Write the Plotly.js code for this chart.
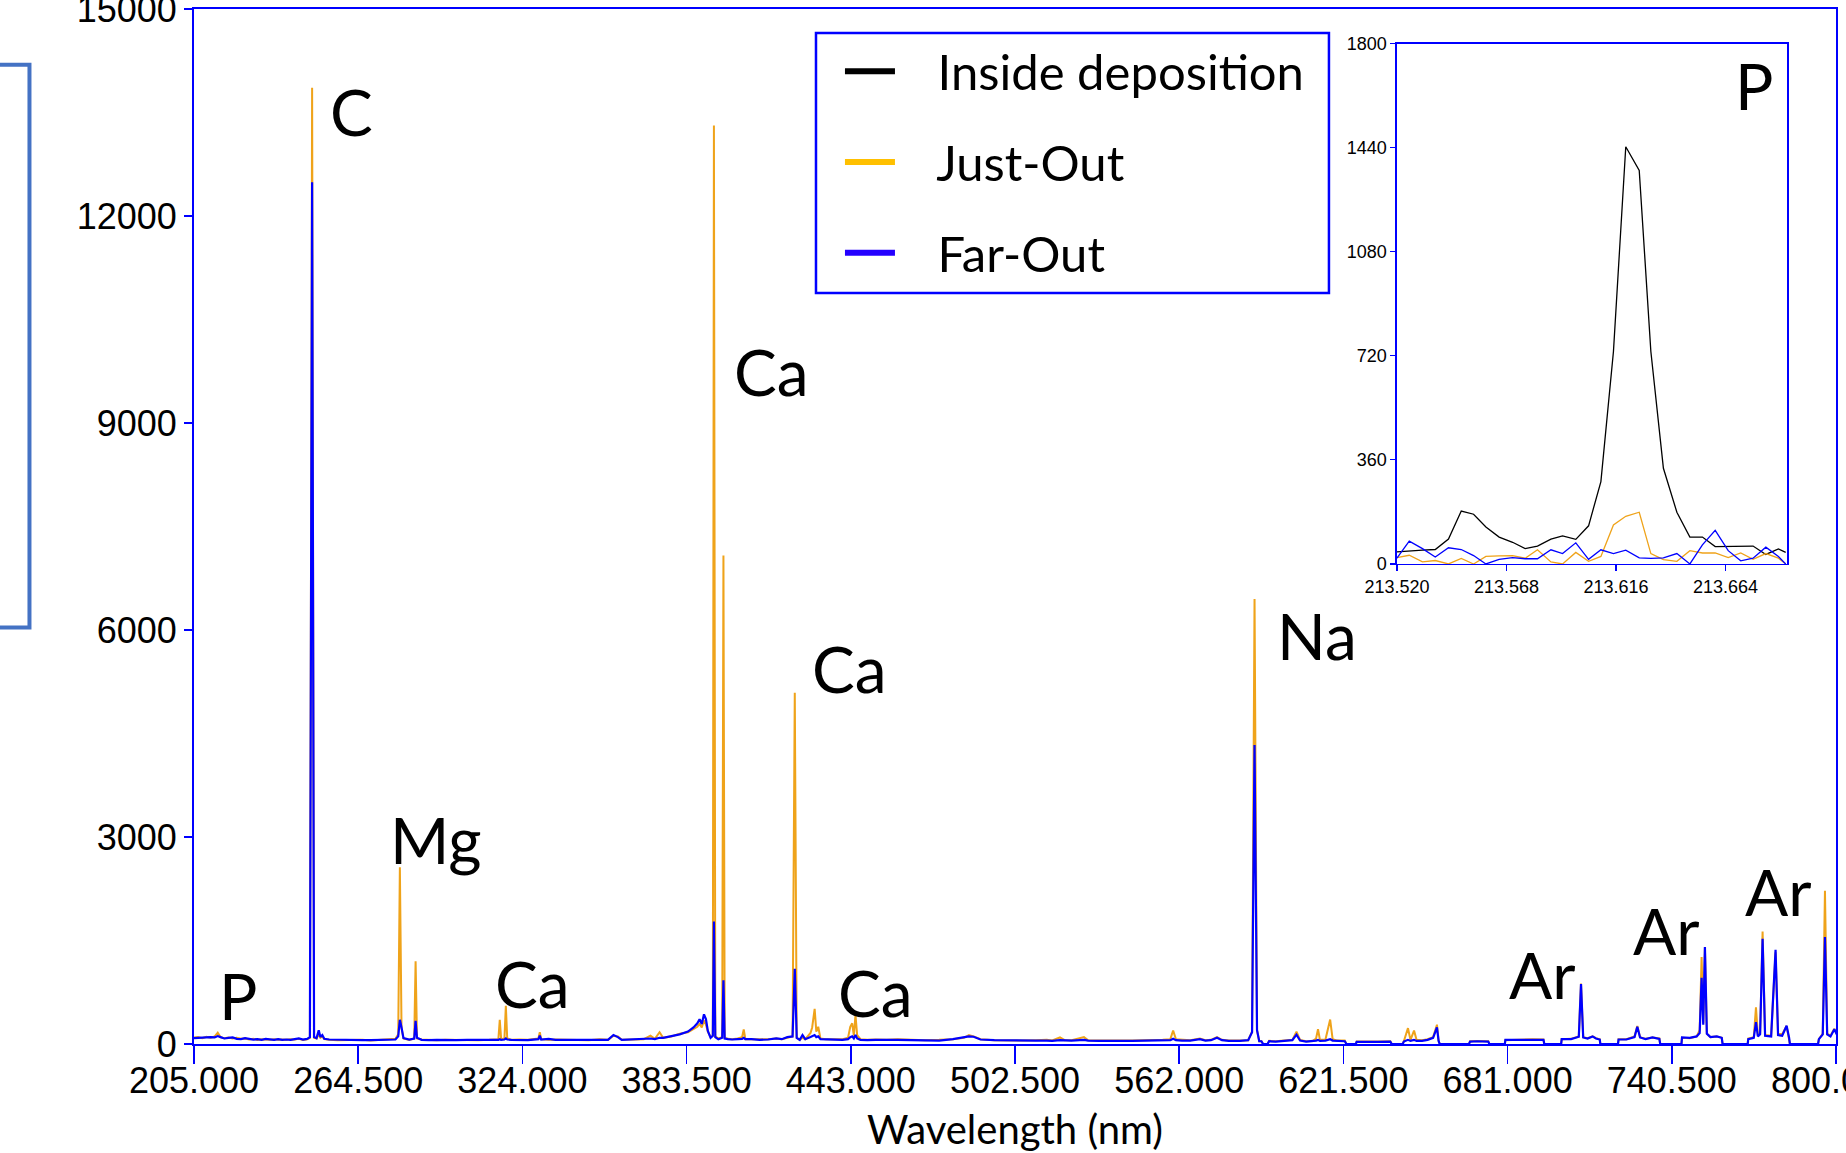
<!DOCTYPE html>
<html>
<head>
<meta charset="utf-8">
<script src="https://cdn.plot.ly/plotly-3.0.1.min.js"></script>
<style>
  html, body { margin: 0; padding: 0; background: #ffffff; }
  #chart { width: 1846px; height: 1153px; }
</style>
</head>
<body>
<div id="chart"></div>
<script>
// ---------------- Main spectrum (nm) ----------------
const wavelength = [
  205.0, 206.5, 208.0, 209.5, 211.0, 212.5, 213.6, 214.6, 216.0, 217.5,
  219.0, 220.5, 222.0, 223.5, 225.0, 226.5, 228.0, 229.5, 231.0, 232.5,
  234.0, 235.5, 237.0, 238.5, 240.0, 241.5, 243.0, 244.5, 246.0, 247.0,
  247.8, 248.5, 249.4, 250.2, 250.8, 251.5, 252.2, 254.0, 257.0, 260.0,
  263.0, 266.0, 269.0, 272.0, 275.0, 278.0, 279.0, 279.6, 280.2, 280.9,
  283.0, 284.8, 285.3, 285.8, 287.5, 290.0, 293.0, 296.0, 300.0, 304.0,
  308.0, 312.0, 315.3, 315.8, 316.3, 317.5, 318.0, 318.5, 320.0, 323.0,
  326.0, 329.8, 330.3, 330.8, 333.5, 336.0, 340.0, 344.0, 348.0, 352.0,
  355.0, 357.0, 358.6, 360.0, 364.0, 368.0, 370.4, 372.0, 373.7, 375.0,
  378.0, 381.0, 384.0, 386.0, 387.4, 388.2, 389.0, 389.8, 390.5, 391.2,
  392.2, 393.0, 393.4, 393.9, 395.0, 396.4, 396.85, 397.3, 398.5, 400.0,
  402.0, 403.6, 404.2, 404.8, 407.0, 410.0, 413.0, 416.0, 418.0, 420.0,
  421.9, 422.7, 423.4, 424.5, 425.5, 426.5, 428.4, 429.0, 429.9, 430.5,
  431.2, 432.0, 434.0, 437.0, 440.0, 442.0, 442.8, 443.5, 444.1, 444.7,
  445.3, 446.5, 449.0, 452.0, 456.0, 460.0, 465.0, 470.0, 475.0, 480.0,
  484.0, 485.8, 487.5, 490.0, 495.0, 500.0, 505.0, 510.0, 514.0, 516.0,
  518.8, 520.5, 523.0, 527.5, 529.0, 533.0, 537.0, 541.0, 545.0, 549.0,
  553.0, 556.0, 558.8, 559.8, 560.8, 563.0, 566.0, 569.5, 571.5, 573.5,
  575.7, 577.5, 580.0, 584.0, 587.0, 588.4, 589.3, 590.2, 591.0, 591.8,
  592.4, 594.0, 594.6, 597.0, 600.0, 603.0, 604.5, 605.8, 608.0, 610.5,
  611.6, 612.3, 613.0, 615.0, 616.7, 617.6, 619.0, 622.0, 622.6, 626.0,
  626.3, 630.0, 634.0, 638.5, 639.0, 643.0, 643.4, 644.9, 645.8, 647.1,
  648.0, 650.0, 652.0, 654.0, 655.4, 656.0, 656.4, 667.0, 667.4, 670.0,
  674.0, 674.4, 680.0, 680.2, 684.0, 686.0, 690.0, 694.0, 694.3, 700.4,
  700.6, 704.0, 706.8, 707.6, 708.4, 710.0, 711.8, 713.0, 714.4, 714.6,
  721.0, 721.2, 724.0, 727.0, 728.0, 729.0, 731.0, 733.5, 736.0, 736.3,
  744.0, 744.2, 747.0, 749.5, 750.6, 751.3, 751.9, 752.5, 753.2, 754.5,
  756.8, 758.6, 758.9, 768.0, 768.2, 770.2, 771.0, 771.7, 772.5, 773.4,
  774.3, 776.5, 778.1, 779.0, 780.5, 782.1, 783.0, 783.3, 793.5, 793.8,
  795.2, 796.0, 796.8, 798.0, 799.4, 800.5
];
const justOut = [
  95, 100, 85, 105, 90, 110, 165, 100, 85, 95,
  80, 90, 75, 80, 65, 75, 60, 70, 65, 60,
  70, 60, 65, 60, 70, 65, 75, 60, 70, 90,
  13860, 90, 80, 140, 90, 110, 70, 60, 55, 60,
  55, 60, 50, 55, 60, 75, 140, 2560, 230, 80,
  60, 80, 1200, 80, 65, 60, 55, 60, 55, 60,
  55, 60, 70, 350, 70, 80, 555, 80, 60, 65,
  60, 80, 170, 70, 60, 65, 60, 60, 55, 70,
  60, 120, 110, 60, 70, 70, 120, 75, 170, 90,
  110, 150, 170, 210, 250, 290, 240, 340, 280, 180,
  100, 120, 13310, 110, 80, 100, 7080, 90, 75, 70,
  80, 100, 210, 70, 70, 60, 70, 80, 70, 90,
  110, 5090, 90, 60, 90, 70, 160, 240, 510, 180,
  250, 80, 70, 70, 70, 90, 250, 300, 120, 420,
  130, 70, 60, 65, 60, 70, 60, 55, 60, 70,
  90, 130, 110, 70, 55, 50, 50, 55, 60, 50,
  95, 55, 55, 100, 55, 50, 55, 50, 50, 55,
  50, 60, 70, 195, 70, 60, 55, 80, 55, 60,
  100, 60, 50, 50, 55, 180, 6450, 200, 40, 40,
  0, 0, 45, 40, 45, 60, 180, 60, 40, 45,
  80, 215, 60, 65, 355, 70, 50, 50, 0, 0,
  35, 40, 35, 40, 0, 0, 40, 230, 60, 195,
  60, 55, 70, 100, 280, 50, 0, 0, 40, 45,
  40, 0, 0, 55, 65, 60, 70, 65, 0, 0,
  70, 75, 110, 875, 100, 85, 110, 85, 70, 0,
  0, 70, 70, 110, 260, 100, 75, 95, 80, 0,
  0, 90, 85, 110, 200, 1260, 300, 1400, 150, 100,
  110, 90, 0, 0, 80, 100, 530, 120, 150, 1630,
  130, 120, 1330, 150, 140, 260, 100, 0, 0, 70,
  150, 2220, 150, 120, 220, 130
];
const farOut = [
  85, 90, 95, 90, 100, 95, 115, 100, 80, 90,
  95, 75, 70, 85, 70, 65, 70, 60, 75, 65,
  60, 70, 60, 65, 60, 70, 80, 65, 75, 100,
  12490, 100, 85, 200, 100, 130, 75, 65, 60, 55,
  60, 55, 55, 60, 55, 65, 110, 350, 240, 85,
  65, 80, 335, 90, 60, 55, 60, 55, 55, 60,
  55, 60, 60, 70, 60, 65, 80, 65, 60, 60,
  55, 70, 120, 65, 75, 60, 60, 55, 60, 65,
  60, 130, 100, 60, 65, 70, 80, 70, 90, 90,
  110, 140, 180, 240, 300, 360, 290, 430, 360, 190,
  90, 120, 1775, 100, 70, 90, 925, 80, 70, 65,
  70, 75, 90, 70, 70, 60, 65, 80, 70, 100,
  110, 1090, 90, 60, 130, 70, 100, 110, 130, 100,
  110, 70, 65, 60, 60, 70, 100, 110, 80, 130,
  80, 60, 55, 60, 55, 60, 55, 55, 50, 70,
  95, 110, 105, 65, 55, 50, 45, 50, 50, 45,
  55, 50, 50, 60, 50, 45, 50, 45, 45, 50,
  45, 50, 55, 75, 55, 50, 50, 70, 50, 55,
  90, 55, 45, 45, 55, 170, 4335, 200, 40, 40,
  0, 0, 40, 35, 40, 55, 135, 50, 35, 40,
  50, 60, 45, 50, 70, 50, 45, 40, 0, 0,
  30, 35, 30, 35, 0, 0, 35, 60, 45, 60,
  45, 45, 60, 90, 240, 45, 0, 0, 35, 40,
  35, 0, 0, 60, 60, 65, 60, 60, 0, 0,
  70, 70, 105, 870, 95, 80, 110, 80, 65, 0,
  0, 65, 65, 100, 250, 95, 70, 95, 75, 0,
  0, 95, 90, 110, 160, 960, 280, 1405, 150, 100,
  110, 90, 0, 0, 70, 90, 315, 110, 140, 1525,
  120, 110, 1365, 130, 120, 265, 90, 0, 0, 70,
  140, 1550, 140, 110, 215, 120
];

// ---------------- Inset: P line region ----------------
const insetWavelength = [
  213.5200, 213.5254, 213.5312, 213.5368, 213.5426, 213.5482, 213.5536, 213.5590,
  213.5648, 213.5707, 213.5762, 213.5816, 213.5875, 213.5926, 213.5984, 213.6040,
  213.6094, 213.6149, 213.6203, 213.6262, 213.6313, 213.6368, 213.6427, 213.6484,
  213.6539, 213.6595, 213.6652, 213.6707, 213.6761, 213.6817, 213.6872, 213.6904
];
const insetInside = [
  42, 46, 48, 50, 86, 183, 172, 128,
  93, 75, 53, 62, 86, 97, 85, 132,
  285, 735, 1443, 1361, 735, 331, 179, 93,
  93, 60, 60, 60, 62, 33, 52, 40
];
const insetJustOut = [
  22, 30, 7, 12, 0, 19, 0, 26,
  28, 29, 20, 49, 7, 0, 40, 9,
  26, 135, 165, 179, 36, 15, 9, 46,
  38, 38, 22, 38, 16, 36, 20, 0
];
const insetFarOut = [
  20, 79, 53, 24, 56, 50, 29, 0,
  16, 22, 18, 18, 49, 36, 73, 16,
  49, 36, 48, 21, 19, 21, 36, 0,
  66, 116, 46, 11, 20, 58, 26, 0
];

// ---------------- Labels ----------------
const seriesNames = ['Inside deposition', 'Just-Out', 'Far-Out'];
const elementLabels = ['C', 'Ca', 'Ca', 'Mg', 'Ca', 'P', 'Ca', 'Na', 'Ar', 'Ar', 'Ar'];
const elementX = [261.9, 414.1, 442.7, 292.7, 327.5, 221.0, 451.8, 611.9, 693.8, 738.4, 779.3];
const elementY = [13519, 9743, 5445, 2962, 871, 697, 740, 5924, 1002, 1641, 2207];
const xTickVals = [205, 264.5, 324, 383.5, 443, 502.5, 562, 621.5, 681, 740.5, 800];
const yTickVals = [0, 3000, 6000, 9000, 12000, 15000];
const insetXTicks = [213.520, 213.568, 213.616, 213.664];
const insetYTicks = [0, 360, 720, 1080, 1440, 1800];

const BLUE = '#0000FF';
const ORANGE = '#EFA31A';
const tickFont = { family: 'Liberation Sans, Arial, sans-serif', size: 36, color: '#000' };
const insetTickFont = { family: 'Liberation Sans, Arial, sans-serif', size: 18, color: '#000' };
const labelFont = { family: 'Lato, Carlito, Calibri, sans-serif', size: 64, color: '#000' };
const PAD = '\u00A0\u00A0\u00A0';

const traces = [
  { x: wavelength, y: justOut, type: 'scatter', mode: 'lines', xaxis: 'x', yaxis: 'y',
    line: { color: ORANGE, width: 2 }, showlegend: false, hoverinfo: 'skip' },
  { x: wavelength, y: farOut, type: 'scatter', mode: 'lines', xaxis: 'x', yaxis: 'y',
    line: { color: BLUE, width: 2.2 }, showlegend: false, hoverinfo: 'skip' },
  { x: insetWavelength, y: insetInside, type: 'scatter', mode: 'lines', xaxis: 'x2', yaxis: 'y2',
    line: { color: '#000000', width: 1.3 }, showlegend: false, hoverinfo: 'skip' },
  { x: insetWavelength, y: insetJustOut, type: 'scatter', mode: 'lines', xaxis: 'x2', yaxis: 'y2',
    line: { color: ORANGE, width: 1.3 }, showlegend: false, hoverinfo: 'skip' },
  { x: insetWavelength, y: insetFarOut, type: 'scatter', mode: 'lines', xaxis: 'x2', yaxis: 'y2',
    line: { color: BLUE, width: 1.3 }, showlegend: false, hoverinfo: 'skip' },
  // legend entries
  { x: [null], y: [null], type: 'scatter', mode: 'lines', xaxis: 'x', yaxis: 'y',
    name: PAD + seriesNames[0], legendgroup: 'g1', line: { color: '#000000', width: 6 } },
  { x: [null], y: [null], type: 'scatter', mode: 'lines', xaxis: 'x', yaxis: 'y',
    name: PAD + seriesNames[1], legendgroup: 'g2', line: { color: '#FFC000', width: 6 } },
  { x: [null], y: [null], type: 'scatter', mode: 'lines', xaxis: 'x', yaxis: 'y',
    name: PAD + seriesNames[2], legendgroup: 'g3', line: { color: '#2400FF', width: 6 } }
];

const annotations = elementLabels.map((t, i) => ({
  x: elementX[i], y: elementY[i], xref: 'x', yref: 'y', text: t, showarrow: false,
  xanchor: 'center', yanchor: 'middle', font: labelFont
}));
annotations.push({
  x: 213.6765, y: 1655, xref: 'x2', yref: 'y2', text: 'P', showarrow: false,
  xanchor: 'center', yanchor: 'middle', font: labelFont
});

const layout = {
  width: 1846, height: 1153,
  margin: { l: 194, r: 10, t: 9, b: 109 },
  paper_bgcolor: '#ffffff', plot_bgcolor: 'rgba(0,0,0,0)',
  showlegend: true,
  font: { family: 'Liberation Sans, Arial, sans-serif', color: '#000' },
  xaxis: {
    range: [205, 800], tickmode: 'array', tickvals: xTickVals, tickformat: '.3f',
    ticks: 'outside', ticklen: 18, tickwidth: 1.5, tickcolor: BLUE,
    ticklabelstandoff: -14, ticklabeloverflow: 'allow',
    showline: true, linecolor: BLUE, linewidth: 2, mirror: true,
    showgrid: false, zeroline: false, tickfont: tickFont,
    title: { text: 'Wavelength (nm)', font: { family: 'Lato, Carlito, sans-serif', size: 40, color: '#000' }, standoff: 17 }
  },
  yaxis: {
    range: [0, 15000], tickmode: 'array', tickvals: yTickVals, tickformat: 'd',
    ticks: 'outside', ticklen: 8, tickwidth: 1.5, tickcolor: BLUE,
    ticklabeloverflow: 'allow',
    showline: true, linecolor: BLUE, linewidth: 2, mirror: true,
    showgrid: false, zeroline: false, tickfont: tickFont
  },
  xaxis2: {
    domain: [0.7326, 0.9702], anchor: 'y2', range: [213.520, 213.691],
    tickmode: 'array', tickvals: insetXTicks, tickformat: '.3f',
    ticks: 'outside', ticklen: 6, tickwidth: 1.2, tickcolor: BLUE,
    showline: true, linecolor: BLUE, linewidth: 1.5, mirror: true,
    showgrid: false, zeroline: false, tickfont: insetTickFont
  },
  yaxis2: {
    domain: [0.4638, 0.9666], anchor: 'x2', range: [0, 1800],
    tickmode: 'array', tickvals: insetYTicks, tickformat: 'd',
    ticks: 'outside', ticklen: 5, tickwidth: 1.2, tickcolor: BLUE,
    showline: true, linecolor: BLUE, linewidth: 1.5, mirror: true,
    showgrid: false, zeroline: false, tickfont: insetTickFont
  },
  legend: {
    x: 0.3934, y: 0.9768, xanchor: 'left', yanchor: 'top',
    borderwidth: 0, bgcolor: 'rgba(0,0,0,0)',
    font: { family: 'Lato, Carlito, sans-serif', size: 49, color: '#000' },
    itemwidth: 50, traceorder: 'grouped', tracegroupgap: 24
  },
  shapes: [
    { type: 'rect', xref: 'paper', yref: 'paper', x0: -0.2, x1: -0.1002, y0: 0.4024, y1: 0.9461,
      line: { color: '#4472C4', width: 4 }, fillcolor: 'rgba(0,0,0,0)', layer: 'above' },
    { type: 'rect', xref: 'paper', yref: 'paper', x0: 0.3788, x1: 0.6912, y0: 0.7256, y1: 0.9768,
      line: { color: BLUE, width: 2.5 }, fillcolor: 'rgba(0,0,0,0)', layer: 'above' }
  ],
  annotations: annotations
};

Plotly.newPlot('chart', traces, layout, { displayModeBar: false, staticPlot: true });
</script>
</body>
</html>
